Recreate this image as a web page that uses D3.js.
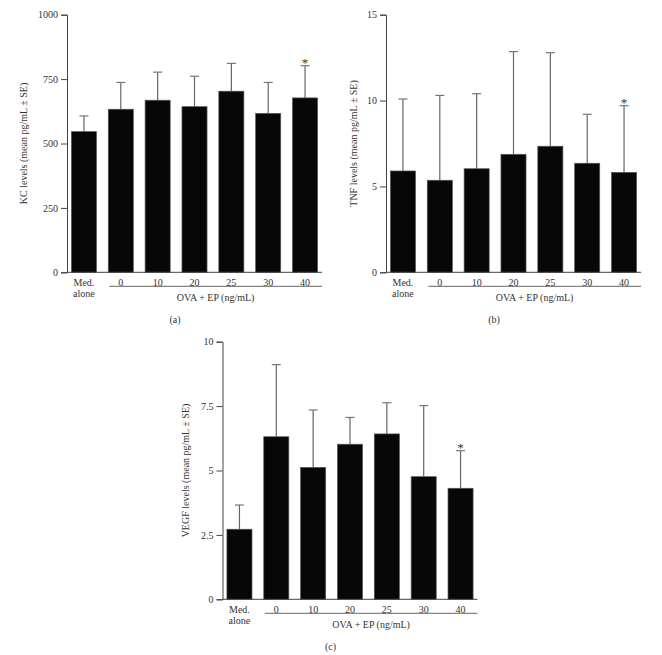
<!DOCTYPE html>
<html>
<head>
<meta charset="utf-8">
<script src="https://cdn.jsdelivr.net/npm/d3@7"></script>
<style>
  body { margin: 0; background: #fff; }
  text { font-family: "Liberation Serif", "DejaVu Serif", serif; fill: #333; }
</style>
</head>
<body>
<div id="fig"></div>
<script>
// groups on the x axis
const groups = ["Med. alone", "0", "10", "20", "25", "30", "40"];

// KC levels (pg/mL)
const kcMean = [546, 633, 668, 643, 703, 617, 677];
const kcSE = [61, 104, 109, 118, 108, 120, 125];
const kcTicks = [0, 250, 500, 750, 1000];

// TNF levels (pg/mL)
const tnfMean = [5.9, 5.36, 6.03, 6.87, 7.34, 6.35, 5.82];
const tnfSE = [4.19, 4.94, 4.37, 5.98, 5.45, 2.85, 3.88];
const tnfTicks = [0, 5, 10, 15];

// VEGF levels (pg/mL)
const vegfMean = [2.72, 6.31, 5.12, 6.02, 6.42, 4.76, 4.31];
const vegfSE = [0.94, 2.80, 2.23, 1.04, 1.21, 2.76, 1.46];
const vegfTicks = [0, 2.5, 5, 7.5, 10];

const starGroup = "40";

const svg = d3.select("#fig")
    .append("svg")
    .attr("width", 662)
    .attr("height", 655);

const plotW = 255;
const plotH = 257.6;

function drawPanel(opt) {
    const g = svg.append("g")
        .attr("transform", `translate(${opt.left},${opt.top})`);

    const x = d3.scaleBand()
        .domain(groups)
        .range([0, plotW])
        .paddingInner(0.32)
        .paddingOuter(0.12);

    const y = d3.scaleLinear()
        .domain([0, d3.max(opt.ticks)])
        .range([plotH, 0]);

    const data = groups.map((grp, i) => ({ grp, mean: opt.mean[i], se: opt.se[i] }));

    // error bars (upper only)
    const eb = g.selectAll(".eb").data(data).enter().append("g");
    eb.append("line")
        .attr("x1", d => x(d.grp) + x.bandwidth() / 2)
        .attr("x2", d => x(d.grp) + x.bandwidth() / 2)
        .attr("y1", d => y(d.mean))
        .attr("y2", d => y(d.mean + d.se))
        .attr("stroke", "#666")
        .attr("stroke-width", 1.2);
    eb.append("line")
        .attr("x1", d => x(d.grp) + x.bandwidth() / 2 - 4.5)
        .attr("x2", d => x(d.grp) + x.bandwidth() / 2 + 4.5)
        .attr("y1", d => y(d.mean + d.se))
        .attr("y2", d => y(d.mean + d.se))
        .attr("stroke", "#777")
        .attr("stroke-width", 1.2);

    // bars
    g.selectAll(".bar").data(data).enter().append("rect")
        .attr("x", d => x(d.grp))
        .attr("y", d => y(d.mean))
        .attr("width", x.bandwidth())
        .attr("height", d => plotH - y(d.mean))
        .attr("fill", "#070707")
        .attr("stroke", "#555")
        .attr("stroke-width", 0.7);

    // significance star
    const s = data.find(d => d.grp === starGroup);
    g.append("text")
        .attr("x", x(s.grp) + x.bandwidth() / 2)
        .attr("y", y(s.mean + s.se) + 1)
        .attr("text-anchor", "middle")
        .style("font-size", "13px")
        .text("*");

    // y axis
    const yAxis = g.append("g")
        .call(d3.axisLeft(y).tickValues(opt.ticks).tickSize(6).tickPadding(3)
            .tickFormat(d3.format("~g")));
    yAxis.select(".domain").attr("stroke", "#444");
    yAxis.selectAll(".tick line").attr("stroke", "#444");
    yAxis.selectAll(".tick text")
        .style("font-size", "10px")
        .attr("fill", "#333")
        .style("font-family", "'Liberation Serif', serif");

    // x baseline
    g.append("line")
        .attr("x1", 0).attr("x2", plotW)
        .attr("y1", plotH).attr("y2", plotH)
        .attr("stroke", "#444");

    // group labels
    data.forEach(d => {
        const cx = x(d.grp) + x.bandwidth() / 2;
        if (d.grp === "Med. alone") {
            g.append("text").attr("x", cx).attr("y", plotH + 13.5)
                .attr("text-anchor", "middle").style("font-size", "10px").text("Med.");
            g.append("text").attr("x", cx).attr("y", plotH + 25)
                .attr("text-anchor", "middle").style("font-size", "10px").text("alone");
        } else {
            g.append("text").attr("x", cx).attr("y", plotH + 13.5)
                .attr("text-anchor", "middle").style("font-size", "10px").text(d.grp);
        }
    });

    // underline for the OVA + EP groups
    const uStart = x("0") + 1;
    g.append("line")
        .attr("x1", uStart).attr("x2", plotW)
        .attr("y1", plotH + 14).attr("y2", plotH + 14)
        .attr("stroke", "#666");

    g.append("text")
        .attr("x", (uStart + plotW) / 2)
        .attr("y", plotH + 29)
        .attr("text-anchor", "middle")
        .style("font-size", "10px")
        .text("OVA + EP (ng/mL)");

    // y label
    g.append("text")
        .attr("transform", "rotate(-90)")
        .attr("x", -plotH / 2)
        .attr("y", opt.yLabelX)
        .attr("text-anchor", "middle")
        .attr("dominant-baseline", "middle")
        .style("font-size", "10px")
        .text(opt.yLabel);

    // panel tag
    g.append("text")
        .attr("x", 108)
        .attr("y", plotH + 50.5)
        .attr("text-anchor", "middle")
        .style("font-size", "10px")
        .text(opt.tag);
}

drawPanel({ left: 67, top: 14.7, mean: kcMean, se: kcSE, ticks: kcTicks,
    yLabel: "KC levels (mean pg/mL ± SE)", yLabelX: -42, tag: "(a)" });
drawPanel({ left: 386, top: 14.7, mean: tnfMean, se: tnfSE, ticks: tnfTicks,
    yLabel: "TNF levels (mean pg/mL ± SE)", yLabelX: -31, tag: "(b)" });
drawPanel({ left: 222.5, top: 341.7, mean: vegfMean, se: vegfSE, ticks: vegfTicks,
    yLabel: "VEGF levels (mean pg/mL ± SE)", yLabelX: -36, tag: "(c)" });
</script>
</body>
</html>
